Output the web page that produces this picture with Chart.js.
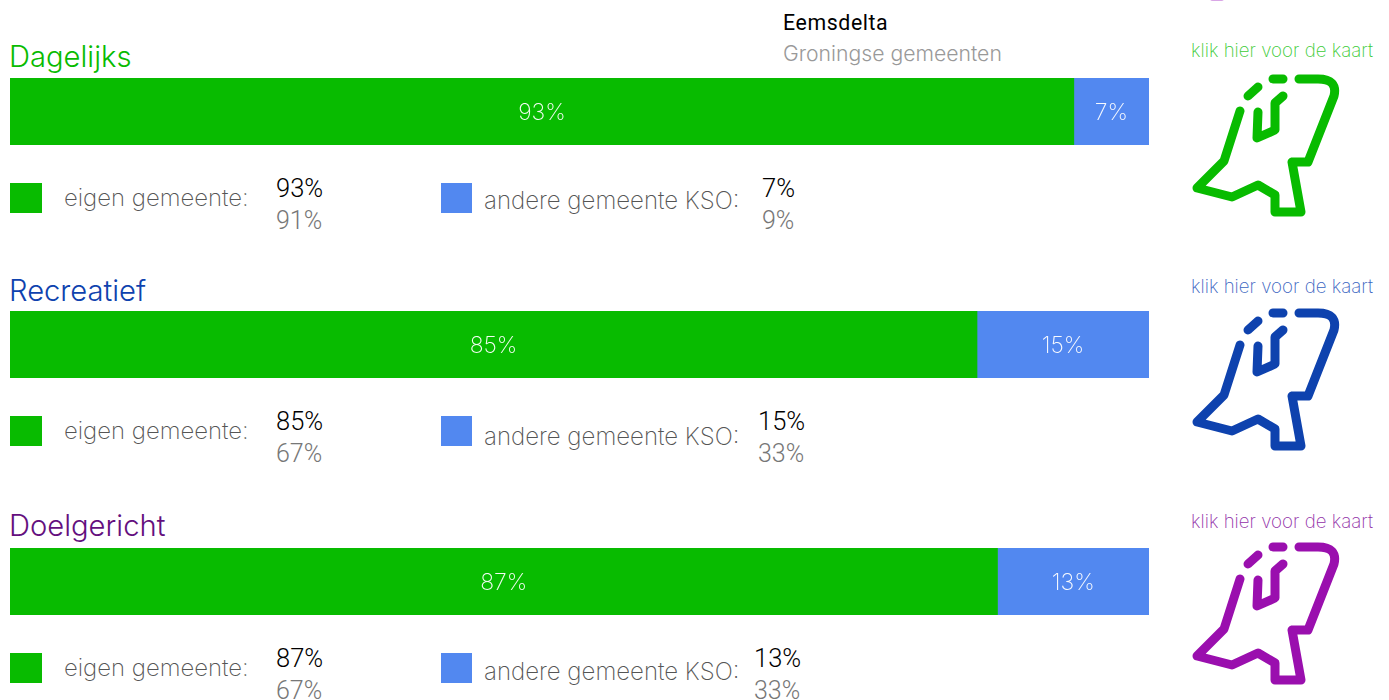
<!DOCTYPE html>
<html>
<head>
<meta charset="utf-8">
<script src="https://cdn.jsdelivr.net/npm/chart.js@4/dist/chart.umd.min.js"></script>
<style>
html, body { margin: 0; padding: 0; background: #fff; overflow: hidden; }
body { position: relative; width: 1389px; height: 700px; font-family: Inter, Roboto, sans-serif; font-weight: 300; }
.t { position: absolute; white-space: nowrap; line-height: 1; }
.box { position: absolute; }
.bar { position: absolute; left: 10px; width: 1139px; height: 67px; }
svg.map { position: absolute; left: 1170px; overflow: visible; }
svg.map * { fill: none; stroke-width: 9; stroke-linecap: round; stroke-linejoin: round; }
</style>
</head>
<body>
<div class="t" style="left:783px;top:12px;font-size:21.3px;font-weight:400;color:#000;font-family:Roboto;letter-spacing:.6px">Eemsdelta</div>
<div class="t" style="left:783px;top:43px;font-size:21.2px;color:#999">Groningse gemeenten</div>
<div class="box" style="left:1210px;top:-4px;width:14px;height:5px;border-radius:7px;background:#d9a6e6"></div>
<script>
var categories = ["Dagelijks", "Recreatief", "Doelgericht"];
var seriesNames = ["eigen gemeente", "andere gemeente KSO"];
var eigenGemeente = [93.4, 84.9, 86.7];
var andereGemeente = [6.6, 15.1, 13.3];
var eigenLabels = [93, 85, 87];
var andereLabels = [7, 15, 13];
var eigenGroningen = [91, 67, 67];
var andereGroningen = [9, 33, 33];
var kaartLabel = "klik hier voor de kaart";

var green = "#08bb00";
var blue = "#5288f0";
var titleColors = ["#08bb00", "#0e42ae", "#640f7e"];
var kaartColors = ["#3ccb36", "#3a64bf", "#9230a8"];
var iconColors = ["#08bb00", "#0e42ae", "#9a0fae"];

// vertical layout per block
var barTop = [78, 311, 548];
var titleTop = [42, 276, 511];
var kaartTop = [42, 278, 513];
var iconTop = [0.5, 234.5, 468.5];
var swatchTop = [183, 416, 653];
var labelTop = [186, 419, 656];
var label2Top = [189, 425, 660];
var valueTop = [176, 409, 646];
var value2Left = [762, 758, 754];

function addText(text, left, top, size, color, weight, family) {
    var el = document.createElement("div");
    el.className = "t";
    el.textContent = text;
    el.style.left = left + "px";
    el.style.top = top + "px";
    el.style.fontSize = size + "px";
    el.style.color = color;
    if (weight) el.style.fontWeight = weight;
    if (family) el.style.fontFamily = family;
    document.body.appendChild(el);
}

function addBox(left, top, w, h, color) {
    var el = document.createElement("div");
    el.className = "box";
    el.style.cssText = "left:" + left + "px;top:" + top + "px;width:" + w + "px;height:" + h + "px;background:" + color;
    document.body.appendChild(el);
}

// outline of the map icon, only decoration
function addIcon(top, color) {
    var ns = "http://www.w3.org/2000/svg";
    var svg = document.createElementNS(ns, "svg");
    svg.setAttribute("class", "map");
    svg.setAttribute("width", "219");
    svg.setAttribute("height", "230");
    svg.style.top = top + "px";
    ["M70 110L54 160L27 187L62 196L88 184L105 194V211H131L122 161H138L164 95Q168 78 148 78H129",
     "M103 78H113", "M78 95L88 86", "M88 111L87 137L105 129V102L113 95"].forEach(function (d) {
        var p = document.createElementNS(ns, "path");
        p.setAttribute("d", d);
        p.setAttribute("stroke", color);
        svg.appendChild(p);
    });
    document.body.appendChild(svg);
}

// writes the percentage in the middle of each bar piece
var barLabels = {
    id: "barLabels",
    afterDatasetsDraw: function (chart) {
        var ctx = chart.ctx;
        ctx.save();
        ctx.font = "200 23px Inter";
        ctx.fillStyle = "rgba(255,255,255,0.95)";
        ctx.textAlign = "center";
        ctx.textBaseline = "middle";
        chart.data.datasets.forEach(function (ds, i) {
            var bar = chart.getDatasetMeta(i).data[0];
            ctx.fillText(Math.round(ds.data[0]) + "%", (bar.base + bar.x) / 2, bar.y + 2);
        });
        ctx.restore();
    }
};

categories.forEach(function (name, i) {
    addText(name, 9, titleTop[i], 29.2, titleColors[i]);
    addText(kaartLabel, 1191, kaartTop[i], 18.7, kaartColors[i], 200);
    addIcon(iconTop[i], iconColors[i]);

    var holder = document.createElement("div");
    holder.className = "bar";
    holder.style.top = barTop[i] + "px";
    var canvas = document.createElement("canvas");
    holder.appendChild(canvas);
    document.body.appendChild(holder);

    new Chart(canvas.getContext("2d"), {
        type: "bar",
        data: {
            labels: [name],
            datasets: [
                { label: seriesNames[0], data: [eigenGemeente[i]], backgroundColor: green },
                { label: seriesNames[1], data: [andereGemeente[i]], backgroundColor: blue }
            ]
        },
        options: {
            indexAxis: "y",
            responsive: true,
            maintainAspectRatio: false,
            animation: false,
            layout: { padding: 0 },
            scales: {
                x: { display: false, stacked: true, min: 0, max: 100 },
                y: { display: false, stacked: true }
            },
            datasets: { bar: { barPercentage: 1, categoryPercentage: 1 } },
            plugins: { legend: { display: false }, tooltip: { enabled: false } }
        },
        plugins: [barLabels]
    });

    addBox(10, swatchTop[i], 32, 30, green);
    addText(seriesNames[0] + ":", 64, labelTop[i], 23.9, "#555", 200);
    addText(eigenLabels[i] + "%", 276, valueTop[i], 25.5, "#000", 300, "Roboto");
    addText(eigenGroningen[i] + "%", 276, valueTop[i] + 32, 25, "#777", 300, "Roboto");

    addBox(441, swatchTop[i], 31, 30, blue);
    addText(seriesNames[1] + ":", 484, label2Top[i], 24, "#555", 200);
    addText(andereLabels[i] + "%", value2Left[i], valueTop[i], 25.5, "#000", 300, "Roboto");
    addText(andereGroningen[i] + "%", value2Left[i], valueTop[i] + 32, 25, "#777", 300, "Roboto");
});
</script>
</body>
</html>
